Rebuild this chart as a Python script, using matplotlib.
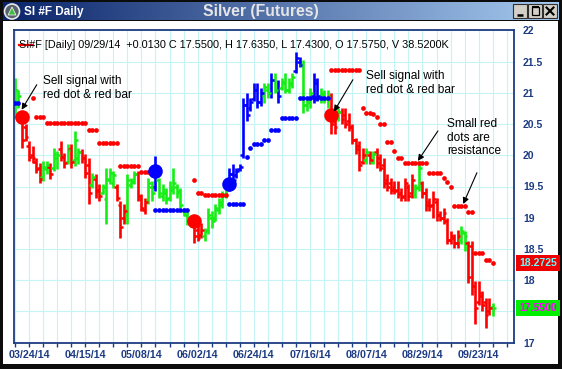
import numpy as np
import matplotlib
matplotlib.use("Agg")
import matplotlib.pyplot as plt
import matplotlib.transforms as mtransforms
from matplotlib.patches import Rectangle, Circle, Polygon
from matplotlib.colors import LinearSegmentedColormap

plt.rcParams['font.family'] = ['Liberation Sans', 'DejaVu Sans']

# daily bars 03/18/14 .. 09/29/14, bar 0 is 03/24/14
firstBar = -4
barColors = ("GGRR"
             "RRRRGGRGGR" "RGRGGRRRGR" "RGGGGRRRGG" "GRRRGGBGGG" "GGGGGGGRRR"
             "GGGGGGGBBB" "BBBBBBBGGB" "GBGGGGBBGG" "GBBGGGRRGR" "RRRRRRGRGR"
             "RRRRRRRRRR" "GGRRRRRRRR" "RRRGGRRRRR" "RRG")

high = [21.24, 21.04, 20.71, 20.50,
        20.23, 20.15, 19.96, 19.88, 19.91, 19.91, 19.88, 20.12, 20.07, 20.23,
        20.04, 20.18, 20.18, 20.39, 20.12, 20.10, 20.02, 19.96, 19.72, 19.70,
        19.54, 19.54, 19.80, 19.80, 19.75, 19.54, 19.27, 19.22, 19.70, 19.64,
        19.75, 19.75, 19.38, 19.32, 19.64, 19.59, 19.99, 19.64, 19.54, 19.48,
        19.59, 19.80, 19.54, 19.48, 19.15, 19.11, 19.00, 19.05, 18.91, 18.91,
        18.83, 19.15, 19.11, 19.22, 19.32, 19.43, 19.54, 19.80, 19.86, 19.80,
        19.86, 20.92, 20.99, 20.92, 21.16, 21.15, 21.08, 21.16, 21.15, 21.31,
        21.31, 21.20, 21.24, 21.31, 21.24, 21.31, 21.65, 21.57, 21.52, 20.92,
        21.08, 21.31, 21.24, 21.08, 21.04, 21.04, 20.99, 20.67, 20.76, 20.76,
        20.76, 20.67, 20.50, 20.28, 20.23, 20.12, 20.12, 20.07, 20.07, 20.12,
        20.02, 19.96, 19.70, 19.64, 19.59, 19.59, 19.48, 19.64, 19.54, 19.70,
        19.54, 19.91, 19.59, 19.48, 19.32, 19.43, 19.32, 19.11, 19.15, 18.99,
        18.78, 18.74, 18.80, 18.86, 18.78, 18.62, 18.62, 17.98, 17.98, 17.82,
        17.71, 17.71, 17.635]
low = [20.60, 20.75, 20.12, 20.23,
       19.91, 19.88, 19.72, 19.56, 19.59, 19.70, 19.62, 19.75, 19.78, 19.91,
       19.80, 19.86, 19.80, 19.83, 19.86, 19.88, 19.64, 19.22, 19.48, 19.32,
       19.27, 19.38, 18.90, 19.54, 19.48, 19.27, 18.67, 18.90, 18.90, 19.48,
       19.54, 19.27, 19.11, 19.06, 19.22, 19.27, 19.43, 19.32, 19.27, 19.22,
       19.27, 19.38, 19.32, 19.15, 19.03, 18.88, 18.85, 18.60, 18.62, 18.67,
       18.62, 18.74, 18.83, 18.95, 19.06, 19.15, 19.32, 19.43, 19.48, 19.64,
       19.75, 19.96, 20.55, 20.71, 20.87, 20.76, 20.79, 20.83, 20.92, 20.92,
       20.99, 20.83, 21.04, 20.99, 20.99, 21.08, 21.31, 21.41, 20.67, 20.71,
       20.76, 20.83, 20.87, 20.83, 20.83, 20.76, 20.34, 20.34, 20.55, 20.50,
       20.44, 20.39, 20.18, 20.02, 19.75, 19.86, 19.86, 19.86, 19.86, 19.80,
       19.75, 19.48, 19.43, 19.38, 19.38, 19.32, 19.27, 19.27, 19.27, 19.32,
       19.32, 19.43, 19.32, 19.11, 19.11, 19.00, 18.95, 18.95, 18.90, 18.58,
       18.58, 18.51, 18.51, 18.58, 18.46, 17.95, 17.77, 17.29, 17.61, 17.50,
       17.23, 17.45, 17.43]
opn = [20.70, 20.85, 20.65, 20.45,
       20.15, 20.00, 19.90, 19.80, 19.65, 19.78, 19.82, 19.80, 19.95, 20.10,
       19.98, 19.90, 20.10, 19.92, 19.95, 20.05, 19.95, 19.85, 19.52, 19.62,
       19.45, 19.40, 19.30, 19.60, 19.55, 19.50, 19.20, 19.00, 19.05, 19.52,
       19.60, 19.70, 19.30, 19.12, 19.28, 19.50, 19.50, 19.60, 19.35, 19.40,
       19.32, 19.45, 19.50, 19.42, 19.10, 19.05, 18.95, 18.98, 18.80, 18.72,
       18.70, 18.80, 19.00, 19.00, 19.12, 19.20, 19.35, 19.48, 19.70, 19.68,
       19.78, 20.00, 20.80, 20.75, 20.90, 21.05, 20.85, 20.95, 21.05, 21.00,
       21.20, 21.05, 21.08, 21.15, 21.05, 21.12, 21.35, 21.50, 21.45, 20.80,
       20.85, 20.95, 21.15, 20.95, 20.98, 20.90, 20.95, 20.55, 20.60, 20.70,
       20.65, 20.55, 20.45, 20.25, 20.15, 19.90, 19.92, 20.00, 19.90, 20.05,
       19.95, 19.85, 19.60, 19.55, 19.50, 19.45, 19.40, 19.35, 19.50, 19.40,
       19.38, 19.50, 19.55, 19.40, 19.25, 19.20, 19.25, 19.05, 19.00, 18.95,
       18.65, 18.68, 18.60, 18.65, 18.75, 18.60, 18.55, 17.90, 17.65, 17.75,
       17.65, 17.50, 17.575]
cls = [21.05, 20.95, 20.25, 20.30,
       19.98, 19.95, 19.78, 19.62, 19.82, 19.85, 19.70, 20.02, 20.00, 19.98,
       19.88, 20.08, 19.90, 20.25, 20.05, 19.95, 19.72, 19.40, 19.66, 19.42,
       19.35, 19.50, 19.62, 19.72, 19.68, 19.32, 18.85, 19.10, 19.60, 19.58,
       19.70, 19.35, 19.15, 19.25, 19.55, 19.40, 19.78, 19.40, 19.45, 19.30,
       19.50, 19.55, 19.40, 19.20, 19.12, 18.95, 18.90, 18.70, 18.68, 18.80,
       18.78, 19.05, 18.95, 19.15, 19.25, 19.38, 19.48, 19.70, 19.60, 19.75,
       19.82, 20.80, 20.65, 20.85, 21.05, 20.85, 21.00, 21.10, 21.00, 21.20,
       21.05, 20.95, 21.18, 21.05, 21.15, 21.25, 21.55, 21.45, 20.80, 20.85,
       21.00, 21.20, 20.95, 21.00, 20.90, 20.95, 20.50, 20.45, 20.70, 20.58,
       20.50, 20.45, 20.25, 20.10, 19.85, 20.00, 20.05, 19.92, 20.02, 19.88,
       19.80, 19.55, 19.50, 19.45, 19.42, 19.38, 19.33, 19.55, 19.35, 19.60,
       19.48, 19.80, 19.40, 19.20, 19.18, 19.30, 19.05, 19.00, 19.08, 18.65,
       18.70, 18.60, 18.70, 18.78, 18.70, 18.05, 17.90, 17.55, 17.80, 17.60,
       17.45, 17.55, 17.55]

# stop dots: (first bar, last bar, level)
redStops = [(1, 1, 20.92), (2, 4, 20.62), (5, 16, 20.52), (17, 19, 20.41), (20, 25, 20.20),
            (26, 31, 19.83), (32, 34, 19.74), (47, 47, 19.60), (48, 49, 19.39), (50, 56, 19.36),
            (86, 94, 21.36), (95, 95, 20.76), (96, 96, 20.68), (97, 97, 20.67), (98, 98, 20.66),
            (99, 99, 20.62), (100, 101, 20.50), (102, 103, 20.22), (104, 104, 20.07),
            (105, 106, 19.96), (107, 113, 19.88), (114, 117, 19.72), (118, 118, 19.64),
            (119, 119, 19.57), (120, 120, 19.49), (121, 124, 19.19), (125, 126, 19.09),
            (127, 129, 18.43), (130, 131, 18.32), (132, 132, 18.27)]
blueStops = [(-4, -3, 20.83), (36, 45, 19.12), (57, 61, 19.22), (62, 62, 19.97), (63, 63, 20.12),
             (64, 66, 20.18), (67, 68, 20.25), (69, 71, 20.41), (72, 76, 20.60), (77, 85, 20.92)]

# big signal dots
sigBars = [-2, 36, 47, 57, 86]
sigPrices = [20.62, 19.75, 18.95, 19.54, 20.64]
sigColors = "RBRBR"

dateBars = [0, 16, 32, 48, 64, 80, 96, 112, 128]
dateLabels = ["03/24/14", "04/15/14", "05/08/14", "06/02/14", "06/24/14",
              "07/16/14", "08/07/14", "08/29/14", "09/23/14"]

lastStop = 18.2725
lastClose = 17.55
legendText = "SI#F [Daily] 09/29/14  +0.0130 C 17.5500, H 17.6350, L 17.4300, O 17.5750, V 38.5200K"

assert len(high) == len(low) == len(opn) == len(cls) == len(barColors)

colMap = {'R': '#ff0000', 'G': '#14ee14', 'B': '#0000ff'}
navy = '#1d3c84'
W, H = 562, 369

fig = plt.figure(figsize=(W / 100, H / 100), dpi=100, facecolor='#0c0c0c')

# window chrome in pixel coords
bg = fig.add_axes([0, 0, 1, 1])
bg.axis('off')
bg.add_patch(Rectangle((3, 21), 555, 343, facecolor='white', edgecolor='none'))
cmap = LinearSegmentedColormap.from_list('tb', ['#0a246a', '#a6caf0'])
bg.imshow(np.linspace(0, 1, 256)[None, :], extent=(3, 559, 20, 2), aspect='auto', cmap=cmap)
bg.set_xlim(0, W)
bg.set_ylim(H, 0)
bg.add_patch(Circle((12, 11.5), 7.5, facecolor='#5a6270', edgecolor='#e8e8e8', lw=1.2))
bg.add_patch(Polygon([(8, 15), (16, 15), (12, 7)], facecolor='#3fbf3f', edgecolor='white', lw=0.5))
bg.text(24, 11.5, "SI #F Daily", color='white', fontsize=8.5, fontweight='bold', va='center')
bg.text(261, 11.5, "Silver (Futures)", color='#e6e6e6', fontsize=11.3, fontweight='bold',
        ha='center', va='center')
for x0 in (513, 528, 543):
    bg.add_patch(Rectangle((x0, 4), 14, 14, facecolor='#d4d0c8', edgecolor='#303030', lw=0.8))
bg.plot([516.5, 522.5], [15, 15], color='black', lw=1.8, solid_capstyle='butt')
bg.add_patch(Rectangle((531.5, 7), 7, 7.5, fill=False, edgecolor='black', lw=0.9))
bg.plot([531.5, 538.5], [7.3, 7.3], color='black', lw=1.5, solid_capstyle='butt')
bg.plot([546.5, 553.5], [7.5, 14.5], color='black', lw=1.5)
bg.plot([546.5, 553.5], [14.5, 7.5], color='black', lw=1.5)

# price pane
ax = fig.add_axes([14 / W, (H - 342.6) / H, 500 / W, 312.2 / H])
ax.set_xlim(-4.28, 138.06)
ax.set_ylim(17, 22)
ax.set_facecolor('white')
for s in ax.spines.values():
    s.set_color(navy)
    s.set_linewidth(1.3)

# 17.5 sits under the last-close box, so no label there
yt = np.arange(17, 22.01, 0.5)
ax.set_yticks(yt)
ax.set_yticklabels(["" if v == 17.5 else f"{v:g}" for v in yt])
ax.yaxis.tick_right()
ax.tick_params(axis='y', length=0, pad=6.5, labelsize=7.5, labelcolor=navy)
xt = list(range(-4, 137, 4))
ax.set_xticks(xt)
ax.set_xticklabels([dateLabels[dateBars.index(t)] if t in dateBars else "" for t in xt])
ax.tick_params(axis='x', length=3, width=1, color=navy, pad=2.5, labelsize=7.7, labelcolor=navy)
for lbl in ax.get_xticklabels() + ax.get_yticklabels():
    lbl.set_fontweight('bold')
ax.grid(True, color='#c6f3f3', lw=0.8)
ax.set_axisbelow(True)

idx = np.arange(firstBar, firstBar + len(high))
cols = [colMap[c] for c in barColors]
ax.vlines(idx, low, high, colors=cols, lw=1.9)
ax.hlines(opn, idx - 0.8, idx, colors=cols, lw=1.8)
ax.hlines(cls, idx, idx + 0.8, colors=cols, lw=1.8)

def plotStops(stops, color):
    xs, ys = [], []
    for a, b, v in stops:
        for i in range(a, b + 1):
            xs.append(i)
            ys.append(v)
    ax.plot(xs, ys, 'o', color=color, ms=3.4, mec='none', zorder=4)

plotStops(redStops, colMap['R'])
plotStops(blueStops, colMap['B'])
for i, p, c in zip(sigBars, sigPrices, sigColors):
    ax.plot(i, p, 'o', color=colMap[c], ms=10.5, mec='none', zorder=5)

# notes
arrow = dict(arrowstyle='-|>', color='black', lw=0.8, mutation_scale=9, shrinkA=0, shrinkB=0)
noteFont = dict(fontsize=8.6, color='black', va='top', ha='left', linespacing=1.2)
ax.annotate("", xy=(-2.1, 20.73), xytext=(2.2, 21.13), arrowprops=arrow, zorder=6)
ax.text(3.97, 21.29, "Sell signal with\nred dot & red bar", **noteFont)
ax.annotate("", xy=(86.8, 20.70), xytext=(92.2, 21.21), arrowprops=arrow, zorder=6)
ax.text(95.9, 21.37, "Sell signal with\nred dot & red bar", **noteFont)
ax.annotate("", xy=(110.7, 19.91), xytext=(116.4, 20.39), arrowprops=arrow, zorder=6)
ax.text(119.0, 20.60, "Small red\ndots are\nresistance", **noteFont)
ax.annotate("", xy=(123.6, 19.22), xytext=(127.5, 19.72), arrowprops=arrow, zorder=6)

# last values on the price scale
trans = mtransforms.blended_transform_factory(ax.transAxes, ax.transData)
ax.text(1.010, lastStop, f"{lastStop:.4f}", transform=trans, va='center', ha='left',
        fontsize=7.5, fontweight='bold', color='#66ffff', clip_on=False, zorder=7,
        bbox=dict(boxstyle='square,pad=0.3', facecolor='#ee0000', edgecolor='none'))
ax.text(1.010, lastClose, f"{lastClose:.4f}", transform=trans, va='center', ha='left',
        fontsize=7.5, fontweight='bold', color='#ff00ff', clip_on=False, zorder=7,
        bbox=dict(boxstyle='square,pad=0.3', facecolor='#00ee00', edgecolor='none'))

# legend line on top
ov = fig.add_axes([0, 0, 1, 1], facecolor='none')
ov.axis('off')
ov.set_xlim(0, W)
ov.set_ylim(H, 0)
ov.text(19, 45, legendText, fontsize=7.8, color='black', va='center', ha='left')
ov.plot([18.5, 32], [45, 45], color='#ff0000', lw=1.6)

fig.savefig("out.png", dpi=100, facecolor=fig.get_facecolor())
